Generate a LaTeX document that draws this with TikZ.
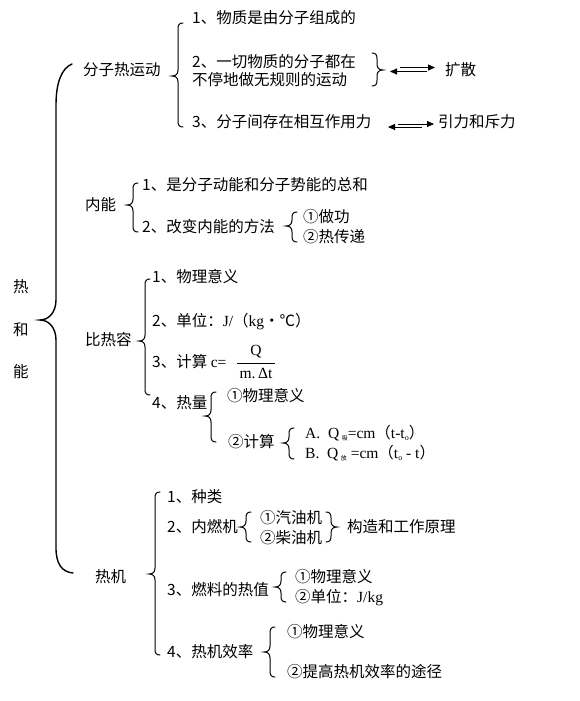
\documentclass[tikz,border=0pt]{standalone}
\usepackage{fontspec}
\setmainfont{Noto Sans CJK SC}
\newfontfamily\lat{Liberation Serif}
\newfontfamily\cjk{Noto Sans CJK SC}
\usetikzlibrary{arrows.meta}
% left brace: x, ytop, ybottom, ytip
\newcommand\LBrc[4]{\draw[brc] (#1+5,#2) .. controls (#1+1,#2) and (#1,#2+2) .. (#1,#2+6) -- (#1,#4-6) .. controls (#1,#4-2) and (#1-2,#4) .. (#1-6,#4) .. controls (#1-2,#4) and (#1,#4+2) .. (#1,#4+6) -- (#1,#3-6) .. controls (#1,#3-2) and (#1+1,#3) .. (#1+5,#3);}
\newcommand\RBrc[4]{\draw[brc] (#1-5,#2) .. controls (#1-1,#2) and (#1,#2+2) .. (#1,#2+6) -- (#1,#4-6) .. controls (#1,#4-2) and (#1+2,#4) .. (#1+6,#4) .. controls (#1+2,#4) and (#1,#4+2) .. (#1,#4+6) -- (#1,#3-6) .. controls (#1,#3-2) and (#1-1,#3) .. (#1-5,#3);}
\newcommand\sub[1]{\raisebox{-2.5pt}{\cjk\fontsize{6}{6}\selectfont #1}}
\newcommand\tzero{t\raisebox{-2pt}{\fontsize{8}{8}\selectfont o}}
\begin{document}
\begin{tikzpicture}[x=1pt,y=-1pt,
  every node/.style={anchor=west,inner sep=0pt,font=\fontsize{15.5}{18}\selectfont},
  brc/.style={line width=1pt,line cap=round},
  mainbrc/.style={line width=1.4pt,line cap=round},
  arr/.style={line width=0.9pt,-{Triangle[length=7pt,width=6pt]}}]
\fill[white] (0,0) rectangle (580,701);
\useasboundingbox (0,0) rectangle (580,701);

% main brace
\draw[mainbrc] (72,64) .. controls (62,68) and (56,82) .. (56,105) -- (56,300) .. controls (56,312) and (49,320) .. (40,320) .. controls (49,320) and (56,328) .. (56,340) -- (56,548) .. controls (56,564) and (62,572) .. (73,573);
\node (re) at (13,287) {热};
\node (he) at (13,330) {和};
\node (neng) at (13,372) {能};

% 分子热运动
\node (n1) at (83,70) {分子热运动};
\LBrc{178}{23}{127}{76}
\node (n11) at (192,18) {1、物质是由分子组成的};
\node (n12a) at (192,62) {2、一切物质的分子都在};
\node (n12b) at (192,80) {不停地做无规则的运动};
\RBrc{377}{53}{86}{70}
\coordinate (bt2) at (383,70);
\node (kuosan) at (445,70) {扩散};
\coordinate (k1) at (400,67.5);
\coordinate (k2) at (390,71.5);
\draw[arr] (k1) -- ([xshift=-10pt,yshift=2.5pt]kuosan.west);
\draw[arr] ([xshift=-18pt,yshift=-1.5pt]kuosan.west) -- (k2);
\node (n13) at (192,122) {3、分子间存在相互作用力};
\node (yinli) at (438,122) {引力和斥力};
\coordinate (y1) at (398,124);
\coordinate (y2) at (388,127);
\draw[arr] (y1) -- ([xshift=-4pt,yshift=-2pt]yinli.west);
\draw[arr] ([xshift=-16pt,yshift=-5pt]yinli.west) -- (y2);

% 内能
\node (n2) at (85,205) {内能};
\LBrc{133}{183}{232}{205}
\node (n21) at (142,185) {1、是分子动能和分子势能的总和};
\node (n22) at (142,227) {2、改变内能的方法};
\LBrc{292}{212}{242}{226}
\node (n221) at (303,217) {①做功};
\node (n222) at (303,237) {②热传递};

% 比热容
\node (n3) at (85,340) {比热容};
\LBrc{145}{279}{395}{341}
\node (n31) at (152,277) {1、物理意义};
\node (n32) at (152,322) {2、单位：{\lat J/}（{\lat kg}·℃）};
\node (n33) at (152,362) {3、计算 {\lat c=}};
\node[anchor=center] (fq) at (256,352) {\lat Q};
\node[anchor=center] (fd) at (256,373) {\lat m.\,Δt};
\draw[line width=0.8pt] ([xshift=-2pt,yshift=4pt]fd.north west) -- ([xshift=2pt,yshift=4pt]fd.north east);
\node (n34) at (152,403) {4、热量};
\LBrc{211}{392}{442}{416}
\node (n341) at (227,396) {①物理意义};
\node (n342) at (228,442) {②计算};
\LBrc{289}{428}{459}{443}
\node (fa) at (305,433) {{\lat A.\ \ Q\,}\sub{吸}{\lat =cm}{\cjk（}{\lat t-\tzero}{\cjk）}};
\node (fb) at (305,453) {{\lat B.\ \ Q\,}\sub{放}{\lat\ =cm}{\cjk（}{\lat\tzero\ -\ t}{\cjk）}};

% 热机
\node (n4) at (95,577) {热机};
\LBrc{155}{492}{655}{574}
\node (n41) at (167,497) {1、种类};
\node (n42) at (167,527) {2、内燃机};
\LBrc{246}{512}{542}{527}
\node (n421) at (260,518) {①汽油机};
\node (n422) at (260,538) {②柴油机};
\RBrc{331}{512}{542}{527}
\node (gz) at (347,527) {构造和工作原理};
\node (n43) at (167,590) {3、燃料的热值};
\LBrc{281}{572}{602}{587}
\node (n431) at (295,577) {①物理意义};
\node (n432) at (295,598) {②单位：{\lat J/kg}};
\node (n44) at (167,652) {4、热机效率};
\LBrc{270}{627}{677}{652}
\node (n441) at (287,632) {①物理意义};
\node (n442) at (287,672) {②提高热机效率的途径};
\end{tikzpicture}
\end{document}
